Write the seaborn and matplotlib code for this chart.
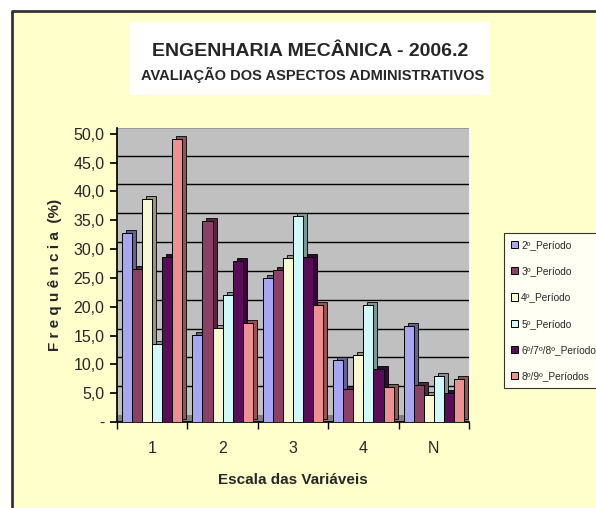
import pandas as pd
import numpy as np
import seaborn as sns
import matplotlib.pyplot as plt
import matplotlib.colors as mcolors
from matplotlib.transforms import ScaledTranslation
from matplotlib.patches import Rectangle

# chart values
escala = ['1', '2', '3', '4', 'N']
periodos = ['2º_Período', '3º_Período', '4º_Período', '5º_Período',
            '6º/7º/8º_Período', '8º/9º_Períodos']
p2 = [32.7, 15.1, 24.9, 10.8, 16.6]
p3 = [26.5, 34.8, 26.3, 5.8, 6.5]
p4 = [38.7, 16.3, 28.4, 11.7, 4.6]
p5 = [13.6, 22.1, 35.7, 20.3, 8.0]
p678 = [28.6, 27.9, 28.6, 9.2, 5.1]
p89 = [49.1, 17.1, 20.3, 6.0, 7.5]
yticks = [0, 5, 10, 15, 20, 25, 30, 35, 40, 45, 50]

cores = ['#9999FF', '#993366', '#FFFFCC', '#CCFFFF', '#660066', '#FF8080']

df = pd.DataFrame({'Escala': escala * 6,
                   'Periodo': np.repeat(periodos, 5),
                   'Freq': p2 + p3 + p4 + p5 + p678 + p89})

sns.set_theme(style="white")
plt.rcParams['font.family'] = ['Liberation Sans', 'DejaVu Sans']

fig = plt.figure(figsize=(5.96, 5.08), dpi=100)
fig.patch.set_facecolor('white')
# yellow chart area with border on top/left only (rest is cropped)
fig.patches.append(Rectangle((12 / 596, 0), 1, 1 - 11 / 508, transform=fig.transFigure,
                             facecolor='#FFFFCC', edgecolor='none', zorder=-2))
fig.lines.append(plt.Line2D([12 / 596, 12 / 596, 1], [0, 1 - 11 / 508, 1 - 11 / 508],
                            transform=fig.transFigure, color='#333333', linewidth=2))

ax = fig.add_axes([117 / 596, 1 - 422 / 508, 352 / 596, 294 / 508])
ax.set_facecolor('#C0C0C0')

sns.barplot(data=df, x='Escala', y='Freq', hue='Periodo', palette=cores,
            width=0.86, edgecolor='black', linewidth=0.7, ax=ax, zorder=3)

ax.set_ylim(0, 51.0)
ax.set_xlim(-0.5, 4.5)

# back-wall gridlines, shifted up a bit like the 3D chart
off = ScaledTranslation(0, 7 / 100, fig.dpi_scale_trans)
ax.hlines(yticks[1:], 0, 1, transform=ax.get_yaxis_transform() + off,
          color='black', linewidth=1, zorder=1)
# dark floor
ax.add_patch(Rectangle((0, 0), 1, 7 / 294, transform=ax.transAxes,
                       facecolor='#808080', edgecolor='none', zorder=2))

# fake depth on bars: an offset darker copy of each bar seaborn drew
sh = ScaledTranslation(4 / 100, 3 / 100, fig.dpi_scale_trans)
bars = [p for p in ax.patches if isinstance(p, Rectangle) and p.get_height() > 0
        and p.get_width() < 1]
for b in bars:
    fc = np.array(mcolors.to_rgb(b.get_facecolor()))
    ax.add_patch(Rectangle((b.get_x(), 0), b.get_width(), b.get_height(),
                           transform=ax.transData + sh, facecolor=fc * 0.6,
                           edgecolor='black', linewidth=0.6, zorder=2.5))

ax.set_yticks(yticks)
ax.set_yticklabels(['-'] + [f'{v:.1f}'.replace('.', ',') for v in yticks[1:]], fontsize=11.5)
ax.set_xticks(np.arange(-0.5, 5, 1), minor=True)
ax.tick_params(axis='x', which='major', length=0, labelsize=11.5, pad=14)
ax.tick_params(axis='x', which='minor', length=5, color='black', bottom=True)
ax.tick_params(axis='y', length=5, color='black', direction='out', left=True, pad=4)
ax.grid(False)
for s in ['top', 'right']:
    ax.spines[s].set_visible(False)
for s in ['left', 'bottom']:
    ax.spines[s].set_color('black')

ax.set_xlabel('Escala das Variáveis', fontsize=11, fontweight='bold', labelpad=12)
ax.set_ylabel('F r e q u ê n c i a  (%)', fontsize=11, fontweight='bold', labelpad=8)

leg = ax.legend(loc='upper left', bbox_to_anchor=((504 - 117) / 352, 1 - (233 - 128) / 294),
                fontsize=7.3, frameon=True, fancybox=False,
                edgecolor='black', handlelength=0.7, handleheight=0.7, handletextpad=0.3,
                labelspacing=1.6, borderpad=0.7, borderaxespad=0)
leg.get_frame().set_facecolor('white')
leg.get_frame().set_linewidth(0.8)

fig.patches.append(Rectangle((130 / 596, 1 - 95 / 508), 360 / 596, 73 / 508,
                             transform=fig.transFigure, facecolor='white',
                             edgecolor='none', zorder=-1))
fig.text(310 / 596, 1 - 51 / 508, 'ENGENHARIA MECÂNICA - 2006.2', ha='center', va='center',
         fontsize=14, fontweight='bold')
fig.text(313 / 596, 1 - 75 / 508, 'AVALIAÇÃO DOS ASPECTOS ADMINISTRATIVOS', ha='center',
         va='center', fontsize=10.5, fontweight='bold')

plt.savefig('out.png', dpi=100)
plt.close()
